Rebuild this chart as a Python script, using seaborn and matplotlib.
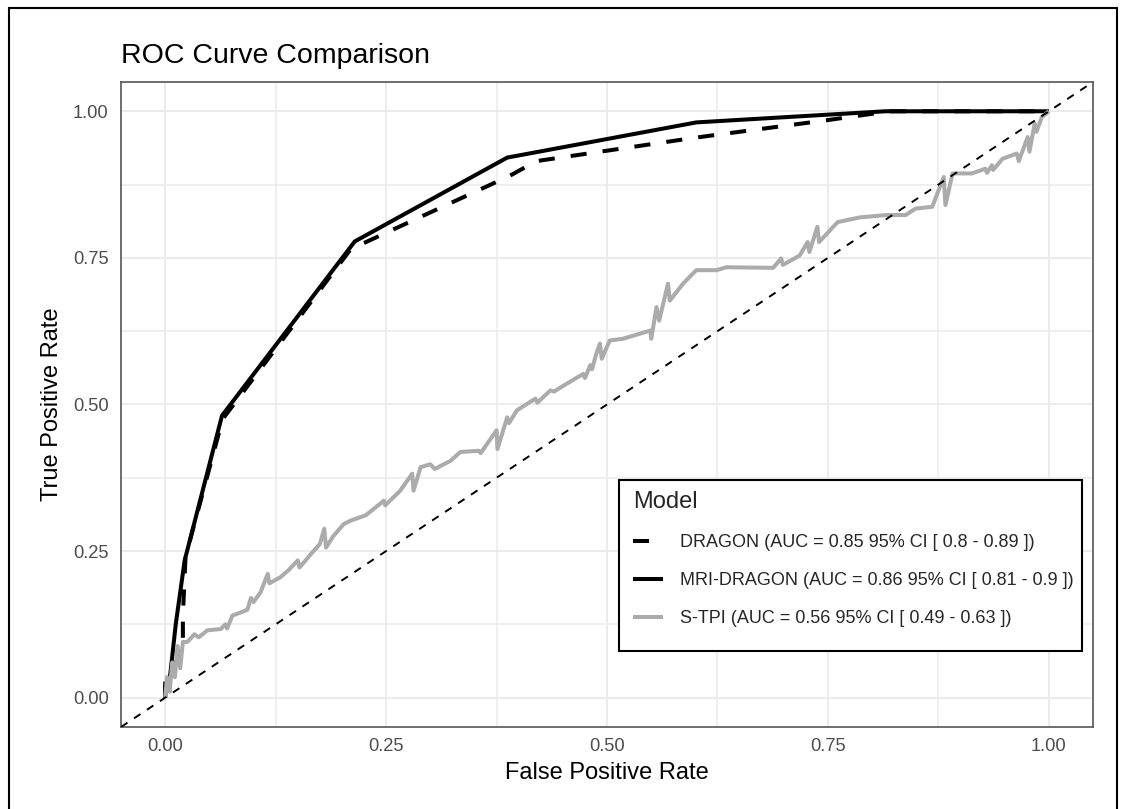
import numpy as np
import pandas as pd
import matplotlib
matplotlib.use("Agg")
import matplotlib.pyplot as plt
import seaborn as sns
from matplotlib.lines import Line2D
from matplotlib.patches import Rectangle

# ---------------- data ----------------
models = ["DRAGON", "MRI-DRAGON", "S-TPI"]
legend_labels = [
    "DRAGON (AUC = 0.85 95% CI [ 0.8 - 0.89 ])",
    "MRI-DRAGON (AUC = 0.86 95% CI [ 0.81 - 0.9 ])",
    "S-TPI (AUC = 0.56 95% CI [ 0.49 - 0.63 ])",
]

dragon_fpr = [0.0, 0.0, 0.012, 0.02, 0.02, 0.023, 0.065, 0.21, 0.39, 0.42, 0.60, 0.75, 0.82, 1.0]
dragon_tpr = [0.0, 0.03, 0.06, 0.085, 0.14, 0.24, 0.475, 0.765, 0.89, 0.915, 0.955, 0.985, 1.0, 1.0]

mri_fpr = [0.0, 0.0, 0.005, 0.012, 0.022, 0.0643, 0.2145, 0.387, 0.601, 0.815, 1.0]
mri_tpr = [0.0, 0.02, 0.03, 0.126, 0.234, 0.481, 0.778, 0.921, 0.981, 1.0, 1.0]

stpi_fpr = [0.0, 0.002, 0.005, 0.008, 0.011, 0.014, 0.017, 0.02, 0.025, 0.033, 0.038,
            0.048, 0.063, 0.068, 0.07, 0.076, 0.085, 0.093, 0.097, 0.1, 0.108, 0.116,
            0.118, 0.13, 0.14, 0.15, 0.152, 0.165, 0.175, 0.18, 0.182, 0.19, 0.202,
            0.21, 0.227, 0.2475, 0.249, 0.266, 0.2795, 0.281, 0.289, 0.3, 0.305, 0.323,
            0.334, 0.355, 0.357, 0.375, 0.376, 0.387, 0.389, 0.398, 0.419, 0.421, 0.436,
            0.44, 0.454, 0.473, 0.475, 0.481, 0.483, 0.488, 0.492, 0.494, 0.503, 0.518,
            0.549, 0.55, 0.556, 0.559, 0.569, 0.571, 0.586, 0.601, 0.624, 0.635, 0.688,
            0.697, 0.699, 0.718, 0.727, 0.729, 0.738, 0.74, 0.761, 0.786, 0.816, 0.838,
            0.849, 0.868, 0.881, 0.883, 0.891, 0.913, 0.928, 0.93, 0.9355, 0.937, 0.9476,
            0.9637, 0.966, 0.976, 0.978, 0.984, 0.986, 0.992, 1.0]
stpi_tpr = [0.0, 0.035, 0.01, 0.06, 0.035, 0.088, 0.05, 0.095, 0.095, 0.108, 0.103,
            0.115, 0.117, 0.125, 0.118, 0.14, 0.145, 0.15, 0.17, 0.163, 0.18, 0.211,
            0.195, 0.205, 0.218, 0.234, 0.222, 0.245, 0.262, 0.288, 0.256, 0.275, 0.296,
            0.302, 0.311, 0.336, 0.328, 0.353, 0.382, 0.353, 0.393, 0.398, 0.39, 0.404,
            0.419, 0.421, 0.417, 0.456, 0.424, 0.478, 0.468, 0.49, 0.51, 0.503, 0.524,
            0.522, 0.535, 0.552, 0.545, 0.567, 0.56, 0.587, 0.604, 0.578, 0.609, 0.612,
            0.626, 0.612, 0.666, 0.643, 0.706, 0.677, 0.706, 0.729, 0.729, 0.734, 0.733,
            0.749, 0.738, 0.754, 0.777, 0.76, 0.803, 0.777, 0.811, 0.819, 0.823, 0.823,
            0.834, 0.837, 0.888, 0.84, 0.894, 0.894, 0.902, 0.895, 0.908, 0.9, 0.919,
            0.928, 0.915, 0.956, 0.931, 0.979, 0.965, 0.99, 1.0]

tick_values = [0.0, 0.25, 0.5, 0.75, 1.0]
tick_labels = ["0.00", "0.25", "0.50", "0.75", "1.00"]
minor_values = [0.125, 0.375, 0.625, 0.875]

df = pd.concat([
    pd.DataFrame({"fpr": dragon_fpr, "tpr": dragon_tpr, "model": "DRAGON"}),
    pd.DataFrame({"fpr": mri_fpr, "tpr": mri_tpr, "model": "MRI-DRAGON"}),
    pd.DataFrame({"fpr": stpi_fpr, "tpr": stpi_tpr, "model": "S-TPI"}),
], ignore_index=True)

# ---------------- style ----------------
sns.set_style("white")
plt.rcParams["font.family"] = ["Liberation Sans", "DejaVu Sans"]
plt.rcParams["lines.solid_capstyle"] = "butt"
plt.rcParams["lines.dash_capstyle"] = "butt"

palette = {"DRAGON": "black", "MRI-DRAGON": "black", "S-TPI": "#ABABAB"}
dash_map = {"DRAGON": (4, 4), "MRI-DRAGON": "", "S-TPI": ""}
LW = 2.9

fig = plt.figure(figsize=(11.3, 8.09), dpi=100)
ax = fig.add_axes([0.1071, 0.1014, 0.8602, 0.7973])

sns.lineplot(data=df, x="fpr", y="tpr", hue="model", style="model",
             hue_order=models, style_order=models, palette=palette,
             dashes=dash_map, sort=False, estimator=None, linewidth=LW,
             legend=False, ax=ax, zorder=3)

ax.axline((0, 0), (1, 1), color="black", lw=1.4, dashes=(4, 4), zorder=4)

ax.set_xlim(-0.05, 1.05)
ax.set_ylim(-0.05, 1.05)
ax.set_xticks(tick_values, tick_labels)
ax.set_yticks(tick_values, tick_labels)
ax.set_xticks(minor_values, minor=True)
ax.set_yticks(minor_values, minor=True)
ax.grid(which="major", color="#EBEBEB", lw=1.4)
ax.grid(which="minor", color="#EBEBEB", lw=1.1)
ax.set_axisbelow(True)
ax.tick_params(which="both", length=0, labelsize=13.2, labelcolor="#4D4D4D")
ax.tick_params(axis="x", pad=8)
ax.tick_params(axis="y", pad=9)
for s in ax.spines.values():
    s.set_visible(True)
    s.set_color("#555555")
    s.set_linewidth(1.2)

ax.set_xlabel("False Positive Rate", fontsize=17, color="black")
ax.set_ylabel("True Positive Rate", fontsize=17, color="black")
ax.xaxis.set_label_coords(0.5, -0.0713)
ax.yaxis.set_label_coords(-0.071, 0.5)
ax.xaxis.label.set_va("center")
ax.yaxis.label.set_va("center")
ax.yaxis.label.set_ha("center")

ax.set_title("ROC Curve Comparison", loc="left", fontsize=20.5, pad=13.5, color="black")

# legend
handles = [
    Line2D([], [], color="black", lw=LW, dashes=(4, 4)),
    Line2D([], [], color="black", lw=LW),
    Line2D([], [], color="#ABABAB", lw=LW),
]
ax.add_patch(Rectangle((0.5123, 0.1178), 0.4764, 0.2652, transform=ax.transAxes,
                       facecolor="white", edgecolor="black", lw=1.5, zorder=5))
leg = ax.legend(handles, legend_labels, title="Model", loc="upper left",
                bbox_to_anchor=(0.5267, 0.366), frameon=False, fontsize=13,
                title_fontsize=17, handlelength=1.66, handletextpad=0.92,
                labelspacing=1.17, borderpad=0, borderaxespad=0, alignment="left")
leg.set_zorder(6)

# outer border
fig.patches.append(Rectangle((0.008, -0.01), 0.9805, 1.0001, transform=fig.transFigure,
                             fill=False, edgecolor="black", lw=1.5))

fig.savefig("out.png", dpi=100)
